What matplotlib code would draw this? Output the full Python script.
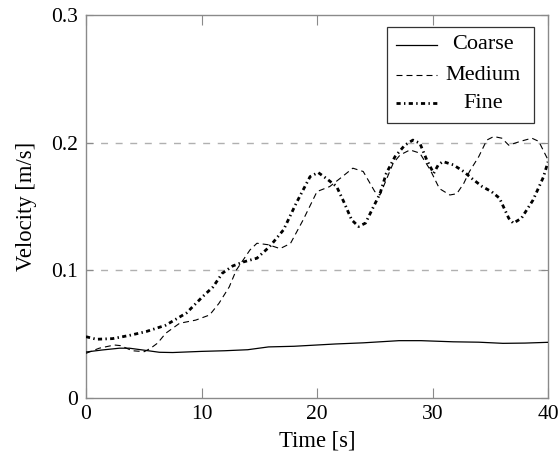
import matplotlib
matplotlib.use("Agg")
import matplotlib.pyplot as plt
from matplotlib.lines import Line2D
from matplotlib.patches import Rectangle

plt.rcParams['font.family'] = ['Liberation Serif', 'DejaVu Serif']
plt.rcParams['font.size'] = 15.5
plt.rcParams['lines.scale_dashes'] = False

# -----------------------------------------------------------------------------
# Data (time in s, velocity in m/s)
# -----------------------------------------------------------------------------
coarse_t = [0, 1.4, 2.9, 3.75, 4.9, 6.35, 7.5, 10, 12, 14, 15.8, 18, 21.6, 24,
            27.1, 29, 31.8, 34, 36.1, 38, 40]
coarse_v = [0.036, 0.0376, 0.039, 0.039, 0.0376, 0.0358, 0.0356, 0.0365, 0.037,
            0.0378, 0.040, 0.0405, 0.0423, 0.0432, 0.0449, 0.0449, 0.044, 0.0437,
            0.0428, 0.043, 0.0436]

medium_t = [0, 1.15, 2.45, 3.0, 4.0, 5.05, 5.6, 6.2, 6.9, 8.1, 9.5, 10.7, 11.5,
            12.4, 13.0, 13.6, 14.2, 14.8, 15.8, 16.8, 17.7, 18.8, 20.0, 21.1,
            22.0, 23.1, 24.0, 24.6, 25.0, 25.45, 26.0, 26.6, 27.2, 28.05, 28.9,
            29.8, 30.6, 31.5, 32.1, 32.7, 33.2, 34.0, 34.7, 35.3, 36.0, 36.6,
            37.6, 38.6, 39.2, 40]
medium_v = [0.035, 0.039, 0.0415, 0.041, 0.037, 0.0363, 0.039, 0.043, 0.0507,
            0.0585, 0.061, 0.065, 0.074, 0.087, 0.100, 0.108, 0.116, 0.1212,
            0.120, 0.117, 0.121, 0.1395, 0.1617, 0.1656, 0.172, 0.180, 0.1774,
            0.168, 0.1617, 0.159, 0.171, 0.184, 0.1904, 0.1943, 0.1918, 0.1787,
            0.164, 0.159, 0.160, 0.168, 0.1774, 0.189, 0.202, 0.2048, 0.2035,
            0.198, 0.201, 0.2035, 0.201, 0.1865]

fine_t = [0, 0.9, 2.3, 3.75, 5.2, 6.9, 8.7, 10.1, 11.0, 11.8, 12.7, 13.6, 14.8,
          15.9, 17.1, 18.2, 19.4, 20.1, 20.8, 21.7, 22.3, 23.0, 23.6, 24.2, 24.9,
          25.45, 26.0, 26.75, 27.6, 28.3, 28.9, 29.5, 30.1, 30.5, 30.9, 31.8,
          32.7, 33.4, 34.3, 35.1, 35.8, 36.6, 37.0, 37.7, 38.7, 39.6, 40]
fine_v = [0.048, 0.046, 0.0465, 0.049, 0.052, 0.057, 0.0666, 0.0794, 0.087,
          0.0977, 0.1034, 0.1065, 0.1095, 0.1186, 0.1317, 0.1526, 0.1734, 0.1766,
          0.172, 0.1656, 0.154, 0.1395, 0.1343, 0.137, 0.150, 0.160, 0.176, 0.189,
          0.198, 0.202, 0.1996, 0.1865, 0.176, 0.1826, 0.1852, 0.1826, 0.1774,
          0.172, 0.1656, 0.1617, 0.1565, 0.1408, 0.1369, 0.1408, 0.155, 0.173,
          0.185]

labels = ['Coarse', 'Medium', 'Fine']
x_ticks = [0, 10, 20, 30, 40]
y_ticks = [0, 0.1, 0.2, 0.3]
y_tick_labels = ['0', '0.1', '0.2', '0.3']

# -----------------------------------------------------------------------------
# Styles
# -----------------------------------------------------------------------------
styles = [
    dict(color='black', lw=0.9, ls='-'),
    dict(color='black', lw=0.8, ls=(0, (4.3, 2.9))),
    dict(color='black', lw=2.0, ls=(0, (3.0, 2.4, 1.0, 2.4))),
]
axis_gray = '#8a8a8a'

fig = plt.figure(figsize=(5.6, 4.61), dpi=100)
ax = fig.add_axes([0.1536, 0.1367, 0.825, 0.8308])

# dashed grid at interior y ticks
for v in y_ticks[1:-1]:
    ax.axhline(v, color='#b0b0b0', lw=1.0, ls=(0, (5, 5.5)), zorder=1)

series = [(coarse_t, coarse_v), (medium_t, medium_v), (fine_t, fine_v)]
for (t, v), st in zip(series, styles):
    ax.plot(t, v, zorder=3, **st)

ax.set_xlim(0, 40)
ax.set_ylim(0, 0.3)
ax.set_xticks(x_ticks)
ax.set_yticks(y_ticks)
ax.set_yticklabels(y_tick_labels)
ax.tick_params(axis='x', direction='in', top=True, length=7, width=0.8,
               color=axis_gray, pad=5)
ax.tick_params(axis='y', direction='in', right=True, length=5, width=0.8,
               color=axis_gray, pad=6)
for sp in ax.spines.values():
    sp.set_color(axis_gray)
    sp.set_linewidth(1.0)

ax.set_xlabel('Time [s]', fontsize=16.3, labelpad=5)
ax.set_ylabel('Velocity [m/s]', fontsize=16.3, labelpad=10)

# -----------------------------------------------------------------------------
# Legend drawn by hand so labels sit centred like pgfplots
# -----------------------------------------------------------------------------
ax.add_patch(Rectangle((0.652, 0.718), 0.318, 0.251, transform=ax.transAxes,
                       facecolor='white', edgecolor='#333333', lw=0.9, zorder=5))
row_y = [0.922, 0.842, 0.770]
for lab, st, yy in zip(labels, styles, row_y):
    ax.add_line(Line2D([0.671, 0.759], [yy, yy], transform=ax.transAxes,
                       zorder=6, **st))
    ax.text(0.859, yy, lab, transform=ax.transAxes, ha='center', va='center',
            fontsize=16, zorder=6)

fig.savefig('out.png', dpi=100)
